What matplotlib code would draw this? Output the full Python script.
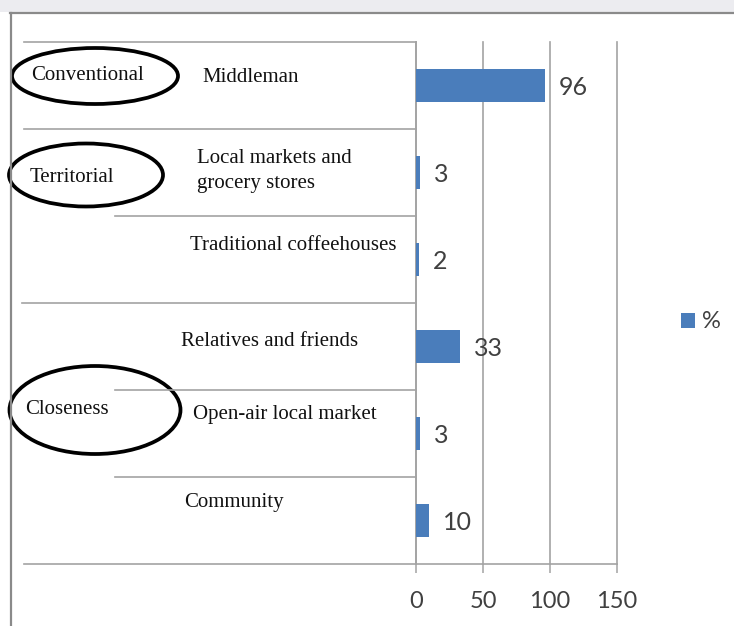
import matplotlib
matplotlib.use("Agg")
import matplotlib.pyplot as plt
from matplotlib.patches import Ellipse, Rectangle
from matplotlib.lines import Line2D
import matplotlib.transforms as mtransforms

# ---- data ----
categories = ["Middleman", "Local markets and\ngrocery stores", "Traditional coffeehouses",
              "Relatives and friends", "Open-air local market", "Community"]
values = [96, 3, 2, 33, 3, 10]
groups = ["Conventional", "Territorial", "Closeness"]
x_ticks = [0, 50, 100, 150]
series_name = "%"

# ---- styling / layout ----
W, H = 734, 626
BAR = "#4a7dbb"
GRID = "#a3a3a3"
TXT = "#404040"
serif = "Liberation Serif"
sans = "Lato"


def fx(x):
    return x / W


def fy(y):
    return 1 - y / H


fig = plt.figure(figsize=(W / 100, H / 100), dpi=100)
fig.patch.set_facecolor("white")

# window chrome: light band and frame lines
fig.add_artist(Rectangle((0, fy(12)), 1, 12 / H, transform=fig.transFigure,
                         color="#ececf0", lw=0))
fig.add_artist(Line2D([fx(10), 1], [fy(13), fy(13)], transform=fig.transFigure,
                      color="#8a8a8a", lw=1.6))
fig.add_artist(Line2D([fx(11), fx(11)], [fy(13), 0], transform=fig.transFigure,
                      color="#8a8a8a", lw=1.6))

x0, x1, y0, y1 = 416, 617, 42, 564
ax = fig.add_axes([fx(x0), fy(y1), (x1 - x0) / W, (y1 - y0) / H])
ax.set_facecolor("none")

pos = list(range(len(categories)))
ax.barh(pos, values, height=0.39, color=BAR, label=series_name, zorder=3)
ax.set_xlim(x_ticks[0], x_ticks[-1])
ax.set_ylim(len(categories) - 0.5, -0.5)
ax.set_xticks(x_ticks)
ax.set_xticklabels([str(t) for t in x_ticks], fontfamily=sans)
ax.set_yticks([])
ax.tick_params(axis="x", length=6.5, width=1.1, color=GRID, pad=13,
               labelsize=17, labelcolor=TXT)
for s in ["top", "right"]:
    ax.spines[s].set_visible(False)
for s in ["left", "bottom"]:
    ax.spines[s].set_color(GRID)
    ax.spines[s].set_linewidth(1.2)
ax.grid(axis="x", color=GRID, lw=1.2, zorder=0)
for gl in ax.xaxis.get_gridlines():
    gl.set_clip_on(False)

for p, v in zip(pos, values):
    ax.annotate(str(v), (v, p), xytext=(10, -1.5), textcoords="offset points",
                va="center", ha="left", fontsize=18, color=TXT, fontfamily=sans)

# row separators in the label column (x in figure, y in data)
blend = mtransforms.blended_transform_factory(fig.transFigure, ax.transData)
sep_start = [24, 24, 115, 22, 115, 115, 24]
for k, xs in enumerate(sep_start):
    yb = k - 0.5
    fig.add_artist(Line2D([fx(xs), fx(x0)], [yb, yb], transform=blend,
                          color=GRID, lw=1.2))

# category labels
label_pos = [(251, 78, "center"), (197, 171, "left"), (293, 246, "center"),
             (270, 341, "center"), (285, 414, "center"), (234, 503, "center")]
for name, (lx, ly, ha) in zip(categories, label_pos):
    fig.text(fx(lx), fy(ly), name, ha=ha, va="center", fontsize=15,
             fontfamily=serif, color="#111111", linespacing=1.45)

# group labels with hand-drawn style ellipses
group_pos = [(88, 76), (72, 178), (67, 410)]
ell = [(95, 76, 166, 56), (86, 175, 154, 63), (95, 410, 171, 88)]
for g, (gx, gy), (cx, cy, ew, eh) in zip(groups, group_pos, ell):
    fig.text(fx(gx), fy(gy), g, ha="center", va="center", fontsize=15,
             fontfamily=serif, color="#111111")
    fig.add_artist(Ellipse((fx(cx), fy(cy)), ew / W, eh / H, transform=fig.transFigure,
                           fill=False, ec="black", lw=2.7))

leg = ax.legend(loc="center left", bbox_to_anchor=(fx(681), fy(322)),
                bbox_transform=fig.transFigure, frameon=False, handlelength=0.58,
                handleheight=0.58, handletextpad=0.3, borderpad=0, borderaxespad=0,
                prop={"family": sans, "size": 17})
for t in leg.get_texts():
    t.set_color(TXT)

fig.savefig("out.png", dpi=100)
